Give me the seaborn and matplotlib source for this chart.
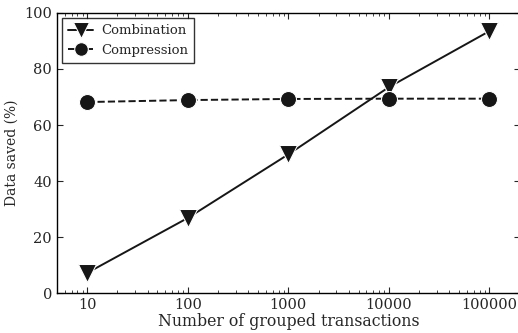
import pandas as pd
import matplotlib
matplotlib.use("Agg")
import matplotlib.pyplot as plt
import seaborn as sns

# 数据
transactions = [10, 100, 1000, 10000, 100000]
combination = [7.2, 26.8, 49.5, 73.5, 93.5]
compression = [68.2, 68.9, 69.3, 69.4, 69.4]

df = pd.DataFrame({
    "Transactions": transactions * 2,
    "Saved": combination + compression,
    "Method": ["Combination"] * 5 + ["Compression"] * 5,
})

sns.set_style("ticks")
plt.rcParams["font.family"] = ["DejaVu Serif"]
plt.rcParams["xtick.direction"] = "in"
plt.rcParams["ytick.direction"] = "in"

fig = plt.figure(figsize=(5.18, 3.33), dpi=100)
ax = fig.add_axes([0.110, 0.120, 0.893, 0.841])

ink = "#161616"
sns.lineplot(data=df[df["Method"] == "Combination"], x="Transactions", y="Saved",
             color=ink, marker="v", markersize=13, linestyle="-", lw=1.4,
             label="Combination", ax=ax)
sns.lineplot(data=df[df["Method"] == "Compression"], x="Transactions", y="Saved",
             color=ink, marker="o", markersize=11.5, linestyle="--", lw=1.4,
             label="Compression", ax=ax)

ax.set_xscale("log")
ax.set_xlim(5, 2e5)
ax.set_ylim(0, 100)
ax.set_xticks(transactions)
ax.set_xticklabels([str(t) for t in transactions])
ax.set_yticks([0, 20, 40, 60, 80, 100])
ax.tick_params(which="both", top=True, right=True, labelsize=10.5)
ax.tick_params(which="major", length=4)
ax.tick_params(which="minor", length=2)
ax.set_xlabel("Number of grouped transactions", fontsize=11.3, labelpad=1)
ax.set_ylabel("Data saved (%)", fontsize=10, labelpad=4)
for s in ax.spines.values():
    s.set_linewidth(1.0)
    s.set_color("black")

leg = ax.legend(loc="upper left", fancybox=False, edgecolor="black", fontsize=9.5,
                borderaxespad=0.4, handlelength=1.9, handletextpad=0.6,
                borderpad=0.45, labelspacing=0.5, markerscale=0.85)
leg.get_frame().set_linewidth(1.0)

fig.savefig("out.png", dpi=100)
